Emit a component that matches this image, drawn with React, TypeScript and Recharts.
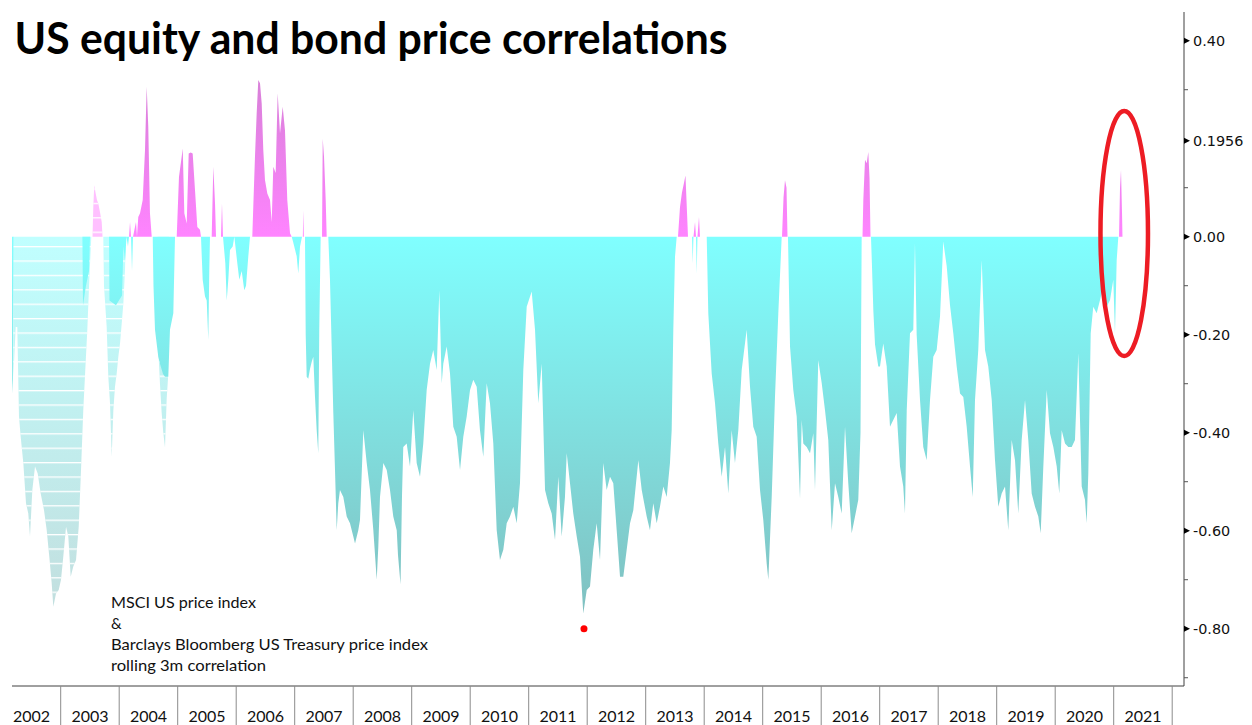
import React from 'react';
import { ComposedChart, Area, XAxis, YAxis, ReferenceArea, ReferenceDot } from 'recharts';

const W = 1252;
const H = 725;
const X_MIN = 2002.1675;
const X_MAX = 2022.2017;
const Y_MIN = -0.9169;
const Y_MAX = 0.4586;

type P = [number, number];

// rolling 3m correlation: [decimal year, value]
const corr2002to2006: P[] = [
  [2002.168, -0.29], [2002.181, -0.32], [2002.192, 0],
  [2003.371, 0], [2003.381, -0.14], [2003.432, -0.1], [2003.484, -0.07], [2003.501, 0],
  [2003.826, 0], [2003.834, -0.13], [2003.945, -0.14], [2004.048, -0.12], [2004.073, -0.02], [2004.099, -0.05], [2004.125, 0],
  [2004.15, -0.02], [2004.168, 0], [2004.185, 0.03], [2004.202, 0], [2004.219, -0.07], [2004.236, 0], [2004.287, 0.03], [2004.304, 0],
  [2004.326, 0.04], [2004.356, 0.048], [2004.402, 0.075], [2004.441, 0.177], [2004.47, 0.306], [2004.497, 0.224], [2004.526, 0.048], [2004.556, 0],
  [2004.573, 0], [2004.586, -0.1], [2004.612, -0.19], [2004.668, -0.245], [2004.697, -0.259], [2004.749, -0.28], [2004.783, -0.286], [2004.839, -0.286], [2004.868, -0.19], [2004.925, -0.156], [2004.954, 0],
  [2004.983, 0], [2005.022, 0.122], [2005.068, 0.163], [2005.086, 0.18], [2005.113, 0.048], [2005.154, 0.027], [2005.188, 0.17], [2005.222, 0.172], [2005.256, 0.17], [2005.296, 0.095], [2005.335, 0.02], [2005.381, 0.014], [2005.398, 0],
  [2005.427, -0.088], [2005.467, -0.122], [2005.496, -0.13], [2005.523, -0.211], [2005.54, -0.07], [2005.552, 0],
  [2005.581, 0], [2005.609, 0.143], [2005.638, 0.068], [2005.655, 0], [2005.74, 0], [2005.757, 0.068], [2005.774, 0],
  [2005.814, -0.054], [2005.838, -0.13], [2005.865, -0.088], [2005.894, -0.027], [2005.94, -0.02], [2005.968, 0], [2006.019, -0.054], [2006.053, -0.088], [2006.094, -0.07], [2006.138, -0.109], [2006.168, -0.1], [2006.207, -0.04], [2006.236, 0],
  [2006.275, 0], [2006.292, 0.061], [2006.321, 0.163], [2006.35, 0.252], [2006.378, 0.32], [2006.407, 0.313], [2006.436, 0.272], [2006.463, 0.177], [2006.492, 0.116], [2006.532, 0.088], [2006.578, 0.075], [2006.607, 0.03], [2006.634, 0.143], [2006.675, 0.13], [2006.709, 0.293], [2006.749, 0.211], [2006.795, 0.265], [2006.834, 0.217], [2006.873, 0.075], [2006.92, 0.007], [2006.949, 0],
  [2006.971, -0.01], [2007.034, -0.04], [2007.061, -0.075], [2007.091, -0.02], [2007.125, 0], [2007.139, 0], [2007.147, 0.054], [2007.156, 0],
];

const corr2007to2013: P[] = [
  [2007.176, 0], [2007.188, -0.2], [2007.205, -0.286], [2007.232, -0.29], [2007.261, -0.27], [2007.291, -0.255], [2007.318, -0.245], [2007.347, -0.327], [2007.376, -0.395], [2007.403, -0.442], [2007.42, -0.19], [2007.444, 0],
  [2007.467, 0], [2007.479, 0.2], [2007.501, 0.163], [2007.53, 0.075], [2007.547, 0],
  [2007.574, 0], [2007.603, -0.088], [2007.632, -0.224], [2007.66, -0.36], [2007.689, -0.476], [2007.718, -0.599], [2007.745, -0.544], [2007.774, -0.517], [2007.831, -0.531], [2007.889, -0.571], [2007.945, -0.585],
  [2008.002, -0.612], [2008.031, -0.626], [2008.087, -0.599], [2008.116, -0.578], [2008.173, -0.395], [2008.231, -0.462], [2008.287, -0.517], [2008.344, -0.599], [2008.402, -0.7], [2008.429, -0.633], [2008.458, -0.531], [2008.515, -0.462], [2008.573, -0.476], [2008.629, -0.517], [2008.685, -0.571], [2008.744, -0.599], [2008.766, -0.65], [2008.809, -0.71], [2008.834, -0.53], [2008.856, -0.429], [2008.914, -0.422], [2008.971, -0.469],
  [2009.027, -0.354], [2009.085, -0.462], [2009.142, -0.49], [2009.198, -0.422], [2009.256, -0.313], [2009.313, -0.259], [2009.369, -0.231], [2009.427, -0.272], [2009.472, -0.109], [2009.513, -0.299], [2009.54, -0.259], [2009.598, -0.224], [2009.655, -0.279], [2009.711, -0.388], [2009.769, -0.408], [2009.826, -0.476], [2009.882, -0.408], [2009.94, -0.367], [2009.997, -0.313],
  [2010.053, -0.292], [2010.111, -0.306], [2010.167, -0.395], [2010.224, -0.449], [2010.282, -0.299], [2010.338, -0.34], [2010.395, -0.422], [2010.453, -0.599], [2010.509, -0.66], [2010.566, -0.639], [2010.624, -0.585], [2010.68, -0.571], [2010.737, -0.551], [2010.795, -0.585], [2010.851, -0.503], [2010.908, -0.272], [2010.966, -0.143],
  [2011.051, -0.112], [2011.108, -0.19], [2011.164, -0.34], [2011.222, -0.259], [2011.279, -0.517], [2011.335, -0.544], [2011.393, -0.565], [2011.45, -0.619], [2011.506, -0.49], [2011.564, -0.612], [2011.62, -0.531], [2011.65, -0.442], [2011.706, -0.503], [2011.762, -0.565], [2011.821, -0.612], [2011.877, -0.653], [2011.933, -0.769], [2011.992, -0.721],
  [2012.048, -0.714], [2012.104, -0.639], [2012.162, -0.585], [2012.219, -0.66], [2012.275, -0.462], [2012.333, -0.517], [2012.39, -0.49], [2012.446, -0.503], [2012.504, -0.599], [2012.561, -0.694], [2012.617, -0.694], [2012.675, -0.639], [2012.732, -0.585], [2012.788, -0.558], [2012.874, -0.456], [2012.932, -0.517],
  [2013.017, -0.571], [2013.073, -0.599], [2013.13, -0.544], [2013.188, -0.585], [2013.244, -0.551], [2013.301, -0.51], [2013.359, -0.531], [2013.415, -0.462], [2013.444, -0.395], [2013.472, -0.19], [2013.501, -0.041], [2013.53, 0],
];

const corr2013to2021: P[] = [
  [2013.552, 0], [2013.586, 0.06], [2013.62, 0.09], [2013.655, 0.11], [2013.68, 0.125], [2013.706, 0.05], [2013.723, 0],
  [2013.792, 0], [2013.803, -0.054], [2013.817, 0], [2013.843, 0.03], [2013.86, 0], [2013.872, -0.075], [2013.885, 0], [2013.911, 0.04], [2013.928, 0],
  [2014.043, 0], [2014.07, -0.156], [2014.128, -0.279], [2014.185, -0.34], [2014.241, -0.422], [2014.299, -0.49], [2014.356, -0.429], [2014.412, -0.524], [2014.47, -0.395], [2014.526, -0.462], [2014.583, -0.395], [2014.641, -0.272], [2014.726, -0.19], [2014.783, -0.306], [2014.839, -0.388], [2014.897, -0.408], [2014.954, -0.517],
  [2015.01, -0.578], [2015.068, -0.667], [2015.096, -0.7], [2015.154, -0.531], [2015.21, -0.327], [2015.267, -0.156], [2015.325, 0],
  [2015.33, 0], [2015.356, 0.08], [2015.381, 0.115], [2015.407, 0.1], [2015.424, 0],
  [2015.432, 0], [2015.467, -0.224], [2015.523, -0.313], [2015.581, -0.367], [2015.638, -0.534], [2015.667, -0.374], [2015.694, -0.422], [2015.752, -0.429], [2015.809, -0.442], [2015.865, -0.401], [2015.894, -0.517], [2015.95, -0.252],
  [2016.009, -0.299], [2016.065, -0.354], [2016.121, -0.415], [2016.18, -0.599], [2016.236, -0.503], [2016.292, -0.531], [2016.35, -0.565], [2016.407, -0.388], [2016.463, -0.503], [2016.521, -0.605], [2016.578, -0.571], [2016.634, -0.537], [2016.672, -0.4], [2016.692, 0],
  [2016.706, 0], [2016.72, 0.075], [2016.749, 0.157], [2016.778, 0.15], [2016.805, 0.173], [2016.826, 0.12], [2016.843, 0],
  [2016.851, 0], [2016.868, -0.06], [2016.891, -0.15], [2016.92, -0.22], [2016.976, -0.265],
  [2017.005, -0.265], [2017.061, -0.218], [2017.12, -0.265], [2017.176, -0.388], [2017.232, -0.374], [2017.291, -0.36], [2017.347, -0.469], [2017.403, -0.51], [2017.432, -0.565], [2017.462, -0.354], [2017.518, -0.197], [2017.574, -0.19], [2017.603, -0.013], [2017.632, -0.2], [2017.689, -0.333], [2017.745, -0.429], [2017.803, -0.456], [2017.86, -0.333], [2017.916, -0.245], [2017.974, -0.231],
  [2018.031, -0.163], [2018.087, -0.01], [2018.145, -0.06], [2018.202, -0.14], [2018.258, -0.197], [2018.316, -0.265], [2018.373, -0.32], [2018.429, -0.327], [2018.487, -0.388], [2018.544, -0.469], [2018.59, -0.531], [2018.629, -0.333], [2018.685, -0.231], [2018.744, -0.048], [2018.8, -0.231], [2018.856, -0.265], [2018.915, -0.333], [2018.971, -0.456],
  [2019.027, -0.551], [2019.085, -0.524], [2019.142, -0.51], [2019.198, -0.599], [2019.256, -0.415], [2019.313, -0.456], [2019.369, -0.565], [2019.427, -0.415], [2019.484, -0.333], [2019.54, -0.415], [2019.598, -0.524], [2019.655, -0.551], [2019.711, -0.571], [2019.752, -0.605], [2019.797, -0.469], [2019.855, -0.313], [2019.911, -0.401], [2019.968, -0.429],
  [2020.026, -0.469], [2020.07, -0.524], [2020.111, -0.395], [2020.168, -0.422], [2020.224, -0.429], [2020.282, -0.429], [2020.338, -0.415], [2020.395, -0.238], [2020.453, -0.51], [2020.509, -0.537], [2020.538, -0.585], [2020.566, -0.483], [2020.607, -0.197], [2020.651, -0.143], [2020.709, -0.156], [2020.766, -0.129], [2020.822, -0.102], [2020.88, -0.143], [2020.937, -0.129], [2020.993, -0.088],
  [2021.022, -0.197], [2021.051, -0.048], [2021.079, 0],
  [2021.091, 0], [2021.108, 0.1], [2021.125, 0.136], [2021.142, 0.05], [2021.15, 0],
];

// lighter (earlier) segment drawn behind the main series
const corrLight2002to2004: P[] = [
  [2002.185, 0], [2002.19, -0.286], [2002.231, -0.184], [2002.258, -0.184], [2002.287, -0.367], [2002.316, -0.408], [2002.361, -0.462], [2002.407, -0.544], [2002.446, -0.565], [2002.475, -0.612], [2002.515, -0.517], [2002.561, -0.469], [2002.607, -0.483], [2002.658, -0.524], [2002.715, -0.558], [2002.761, -0.599], [2002.805, -0.653], [2002.846, -0.707], [2002.874, -0.755], [2002.92, -0.728], [2002.966, -0.721],
  [2003.005, -0.7], [2003.044, -0.653], [2003.091, -0.592], [2003.13, -0.612], [2003.171, -0.694], [2003.215, -0.673], [2003.262, -0.66], [2003.308, -0.592], [2003.352, -0.462], [2003.386, -0.354], [2003.42, -0.272], [2003.455, -0.19], [2003.489, -0.088], [2003.523, 0],
  [2003.544, 0], [2003.557, 0.06], [2003.574, 0.105], [2003.595, 0.09], [2003.62, 0.075], [2003.643, 0.068], [2003.672, 0.05], [2003.701, 0.03], [2003.715, 0],
  [2003.728, 0], [2003.74, -0.1], [2003.786, -0.184], [2003.814, -0.286], [2003.843, -0.34], [2003.872, -0.449], [2003.9, -0.354], [2003.928, -0.306], [2003.957, -0.279], [2003.985, -0.245], [2004.014, -0.218], [2004.043, -0.177], [2004.071, -0.136], [2004.099, -0.068], [2004.116, 0],
  [2004.655, 0], [2004.672, -0.24], [2004.697, -0.3], [2004.726, -0.36], [2004.754, -0.4], [2004.783, -0.43], [2004.812, -0.33], [2004.834, -0.29], [2004.851, 0],
];

const yearBoundaries = [2003, 2004, 2005, 2006, 2007, 2008, 2009, 2010, 2011, 2012, 2013, 2014, 2015, 2016, 2017, 2018, 2019, 2020, 2021, 2022];
const yearLabels = [2002, 2003, 2004, 2005, 2006, 2007, 2008, 2009, 2010, 2011, 2012, 2013, 2014, 2015, 2016, 2017, 2018, 2019, 2020, 2021];
const yTicks = [-0.9, -0.8, -0.7, -0.6, -0.5, -0.4, -0.3, -0.2, -0.1, 0, 0.1, 0.1956, 0.3, 0.4];
const yLabelled = [-0.8, -0.6, -0.4, -0.2, 0, 0.1956, 0.4];
const minCorrelation: P = [2011.945, -0.8];
const highlight = { x1: 2020.774, x2: 2021.586, y1: -0.2435, y2: 0.2565 };

const noteLines = ['MSCI US price index', '&', 'Barclays Bloomberg US Treasury price index', 'rolling 3m correlation'];
const noteWidths = [145, 0, 317, 155];

const split = (pts: P[]) => pts.map(([t, v]) => ({ t, neg: Math.min(v, 0), pos: Math.max(v, 0) }));
const mainData = split([...corr2002to2006, ...corr2007to2013, ...corr2013to2021]);
const lightData = split(corrLight2002to2004);
const xTicks = [...yearBoundaries, ...yearLabels.map((y) => y + 0.5)].sort((a, b) => a - b);

const YTick = (props: any) => {
  const { x, y, payload } = props;
  const v = payload.value as number;
  const major = yLabelled.includes(v);
  const label = v === 0.1956 ? '0.1956' : v.toFixed(2);
  return (
    <g>
      {major ? (
        <polygon points={`${x},${y - 3} ${x + 6},${y} ${x},${y + 3}`} fill="#000" />
      ) : (
        <line x1={x} x2={x + 4} y1={y} y2={y} stroke="#555" strokeWidth={1} />
      )}
      {major && (
        <text x={x + 9} y={y} dy="0.36em" fontFamily="DejaVu Sans" fontSize={14.4} fill="#111" textAnchor="start">
          {label}
        </text>
      )}
    </g>
  );
};

const XTick = (props: any) => {
  const { x, y, payload } = props;
  const v = payload.value as number;
  if (Number.isInteger(v)) {
    return <line x1={x} x2={x} y1={y} y2={y + 39} stroke="#8C8C8C" strokeWidth={1} />;
  }
  return (
    <text x={x} y={y + 36} textAnchor="middle" fontFamily="Lato" fontSize={16} fill="#111">
      {Math.floor(v)}
    </text>
  );
};

const EllipseShape = (props: any) => {
  const { x, y, width, height } = props;
  return (
    <ellipse cx={x + width / 2} cy={y + height / 2} rx={Math.abs(width) / 2} ry={Math.abs(height) / 2} fill="none" stroke="#ED1C24" strokeWidth={4.5} />
  );
};

export default function App() {
  return (
    <div style={{ position: 'absolute', left: 0, top: 0, width: W, height: H, background: '#fff', overflow: 'hidden' }}>
      <ComposedChart width={W} height={H} margin={{ top: 12, right: 0, bottom: 0, left: 12 }}>
        <defs>
          <linearGradient id="negMain" x1="0" y1="0" x2="0" y2="1">
            <stop offset="0%" stopColor="#80FFFF" />
            <stop offset="100%" stopColor="#80C0C0" />
          </linearGradient>
          <linearGradient id="posMain" x1="0" y1="0" x2="0" y2="1">
            <stop offset="0%" stopColor="#D880D8" />
            <stop offset="100%" stopColor="#FF84FF" />
          </linearGradient>
          <linearGradient id="negLight" x1="0" y1="0" x2="0" y2="1">
            <stop offset="0%" stopColor="#C0FFFF" />
            <stop offset="100%" stopColor="#C2DFDF" />
          </linearGradient>
          <pattern id="stripes" patternUnits="userSpaceOnUse" x="0" y="1.2" width="8" height="14.4">
            <rect x="0" y="0" width="8" height="1.3" fill="#FFFFFF" />
          </pattern>
        </defs>
        <XAxis
          xAxisId="yr"
          type="number"
          dataKey="t"
          domain={[X_MIN, X_MAX]}
          allowDataOverflow
          ticks={xTicks}
          interval={0}
          tickSize={0}
          tickMargin={0}
          height={39}
          axisLine={{ stroke: '#404040', strokeWidth: 1 }}
          tickLine={false}
          tick={<XTick />}
        />
        <YAxis
          orientation="right"
          type="number"
          domain={[Y_MIN, Y_MAX]}
          allowDataOverflow
          ticks={yTicks}
          interval={0}
          width={68}
          tickSize={0}
          tickMargin={0}
          tickLine={false}
          axisLine={{ stroke: '#404040', strokeWidth: 1 }}
          tick={<YTick />}
        />
        <Area xAxisId="yr" data={lightData} dataKey="neg" type="linear" baseValue={0} stroke="none" fill="url(#negLight)" fillOpacity={1} isAnimationActive={false} />
        <Area xAxisId="yr" data={lightData} dataKey="pos" type="linear" baseValue={0} stroke="none" fill="#FFC0FF" fillOpacity={1} isAnimationActive={false} />
        <Area xAxisId="yr" data={lightData} dataKey="neg" type="linear" baseValue={0} stroke="none" fill="url(#stripes)" fillOpacity={1} isAnimationActive={false} />
        <Area xAxisId="yr" data={lightData} dataKey="pos" type="linear" baseValue={0} stroke="none" fill="url(#stripes)" fillOpacity={1} isAnimationActive={false} />
        <Area xAxisId="yr" data={mainData} dataKey="neg" type="linear" baseValue={0} stroke="none" fill="url(#negMain)" fillOpacity={1} isAnimationActive={false} />
        <Area xAxisId="yr" data={mainData} dataKey="pos" type="linear" baseValue={0} stroke="none" fill="url(#posMain)" fillOpacity={1} isAnimationActive={false} />
        <ReferenceDot xAxisId="yr" x={minCorrelation[0]} y={minCorrelation[1]} r={3.5} fill="#FF0000" stroke="none" ifOverflow="visible" />
        <ReferenceArea
          xAxisId="yr"
          x1={highlight.x1}
          x2={highlight.x2}
          y1={highlight.y1}
          y2={highlight.y2}
          ifOverflow="visible"
          shape={(p: any) => <EllipseShape {...p} />}
        />
      </ComposedChart>
      <svg width={W} height={H} style={{ position: 'absolute', left: 0, top: 0, pointerEvents: 'none' }}>
        <text x={14.5} y={54} fontFamily="Lato" fontWeight={700} fontSize={44} fill="#000" textLength={713} lengthAdjust="spacingAndGlyphs">
          US equity and bond price correlations
        </text>
        {noteLines.map((line, i) => (
          <text
            key={i}
            x={111}
            y={608 + i * 21}
            fontFamily="Lato"
            fontSize={15}
            fill="#111"
            {...(noteWidths[i] > 0 ? { textLength: noteWidths[i], lengthAdjust: 'spacingAndGlyphs' } : {})}
          >
            {line}
          </text>
        ))}
      </svg>
    </div>
  );
}
